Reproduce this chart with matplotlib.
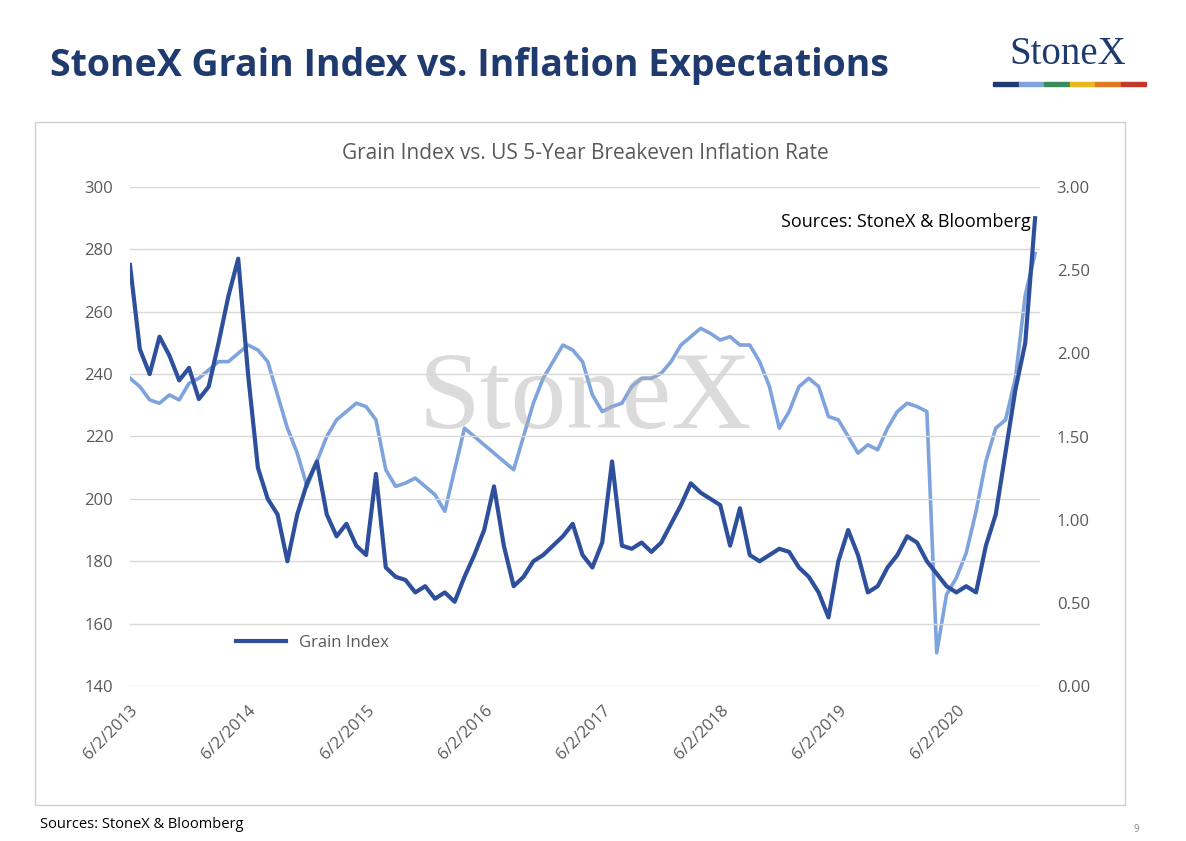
import matplotlib
matplotlib.use('Agg')
import matplotlib.pyplot as plt
from matplotlib.patches import Rectangle

# monthly values, Jun 2013 .. Feb 2021
grain = [275, 248, 240, 252, 246, 238, 242, 232, 236, 250, 265, 277, 240, 210, 200, 195,
         180, 195, 205, 212, 195, 188, 192, 185, 182, 208, 178, 175, 174, 170, 172, 168,
         170, 167, 175, 182, 190, 204, 185, 172, 175, 180, 182, 185, 188, 192, 182, 178,
         186, 212, 185, 184, 186, 183, 186, 192, 198, 205, 202, 200, 198, 185, 197, 182,
         180, 182, 184, 183, 178, 175, 170, 162, 180, 190, 182, 170, 172, 178, 182, 188,
         186, 180, 176, 172, 170, 172, 170, 185, 195, 215, 235, 250, 290]
breakeven = [1.85, 1.80, 1.72, 1.70, 1.75, 1.72, 1.82, 1.85, 1.90, 1.95, 1.95, 2.00, 2.05, 2.02,
             1.95, 1.75, 1.55, 1.40, 1.20, 1.35, 1.50, 1.60, 1.65, 1.70, 1.68, 1.60, 1.30, 1.20,
             1.22, 1.25, 1.20, 1.15, 1.05, 1.30, 1.55, 1.50, 1.45, 1.40, 1.35, 1.30, 1.50, 1.70,
             1.85, 1.95, 2.05, 2.02, 1.95, 1.75, 1.65, 1.68, 1.70, 1.80, 1.85, 1.85, 1.88, 1.95,
             2.05, 2.10, 2.15, 2.12, 2.08, 2.10, 2.05, 2.05, 1.95, 1.80, 1.55, 1.65, 1.80, 1.85,
             1.80, 1.62, 1.60, 1.50, 1.40, 1.45, 1.42, 1.55, 1.65, 1.70, 1.68, 1.65, 0.20, 0.55,
             0.65, 0.80, 1.05, 1.35, 1.55, 1.60, 1.85, 2.35, 2.60]
tick_labels = ['6/2/2013', '6/2/2014', '6/2/2015', '6/2/2016', '6/2/2017',
               '6/2/2018', '6/2/2019', '6/2/2020']
months = list(range(len(grain)))

plt.rcParams['font.family'] = ['Open Sans', 'DejaVu Sans']

W, H = 1186, 841
fig = plt.figure(figsize=(W / 100, H / 100), dpi=100)
fig.patch.set_facecolor('white')

navy = '#1f3a6e'
fig.text(50 / W, 1 - 66 / H, 'StoneX Grain Index vs. Inflation Expectations',
         fontsize=27, fontweight='bold', color=navy, va='center')
fig.text(1068 / W, 1 - 55 / H, 'StoneX', fontsize=28, family='Liberation Serif',
         color=navy, ha='center', va='center')
bar_cols = ['#1f3a6e', '#7fa3dc', '#3c8a5a', '#e8b820', '#e07a20', '#c0392b']
for i, c in enumerate(bar_cols):
    fig.patches.append(Rectangle(((993 + i * 25.5) / W, 1 - 86 / H), 25.5 / W, 4 / H,
                                 transform=fig.transFigure, color=c))
fig.patches.append(Rectangle((35 / W, 1 - 805 / H), 1090 / W, 683 / H, transform=fig.transFigure,
                             fill=False, edgecolor='#d0d0d0', lw=1))
fig.text(40 / W, 1 - 824 / H, 'Sources: StoneX & Bloomberg', fontsize=10.5, va='center')
fig.text(1133 / W, 1 - 829 / H, '9', fontsize=7, color='#888888', va='center')

ax = fig.add_axes([130 / W, 1 - 686 / H, 910 / W, 499 / H])
ax2 = ax.twinx()
ax.set_zorder(ax2.get_zorder() + 1)
ax.patch.set_visible(False)

dark = '#2d4f9c'
light = '#7fa3dc'
ax2.plot(months, breakeven, color=light, lw=2.6)
ax.plot(months, grain, color=dark, lw=3, label='Grain Index')

ax.set_ylim(140, 300)
ax2.set_ylim(0, 3)
ax.set_xlim(0, 92.5)
ax.set_yticks(range(140, 301, 20))
ax2.set_yticks([0, 0.5, 1, 1.5, 2, 2.5, 3])
ax2.set_yticklabels(['%.2f' % v for v in ax2.get_yticks()])
ax.set_xticks(range(0, 85, 12))
ax.set_xticklabels(tick_labels, rotation=45, ha='right', rotation_mode='anchor')
ax.grid(axis='y', color='#d9d9d9', lw=1)
for a in (ax, ax2):
    for s in a.spines.values():
        s.set_visible(False)
    a.tick_params(length=0, labelsize=12, colors='#595959', pad=12)

ax.text(0.5, 0.57, 'StoneX', transform=ax.transAxes, fontsize=80, family='Liberation Serif',
        color='#b0b0b0', alpha=0.45, ha='center', va='center', zorder=0)
ax.text(0.99, 0.93, 'Sources: StoneX & Bloomberg', transform=ax.transAxes, fontsize=13,
        ha='right', va='center')
ax.legend(loc='lower left', bbox_to_anchor=(0.1, 0.04), frameon=False, fontsize=12,
          labelcolor='#595959', handlelength=3)
ax.set_title('Grain Index vs. US 5-Year Breakeven Inflation Rate', fontsize=15,
             color='#595959', pad=20)

plt.savefig('out.png', dpi=100)
